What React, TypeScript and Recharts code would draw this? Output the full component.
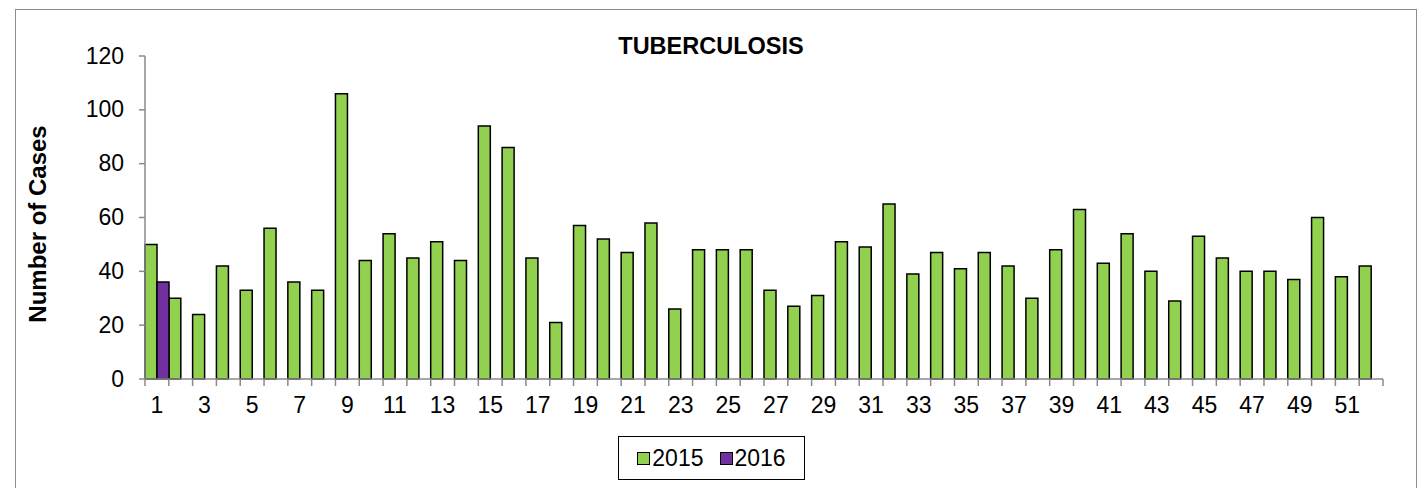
import React from "react";
import { BarChart, Bar, XAxis, YAxis, Legend } from "recharts";

const weeks: number[] = Array.from({ length: 52 }, (_, i) => i + 1);
const cases2015: number[] = [
  50, 30, 24, 42, 33, 56, 36, 33, 106, 44, 54, 45, 51, 44, 94, 86, 45, 21, 57, 52,
  47, 58, 26, 48, 48, 48, 33, 27, 31, 51, 49, 65, 39, 47, 41, 47, 42, 30, 48, 63,
  43, 54, 40, 29, 53, 45, 40, 40, 37, 60, 38, 42,
];
const cases2016: (number | null)[] = [36];
const yTicks: number[] = [0, 20, 40, 60, 80, 100, 120];
const seriesNames = ["2015", "2016"];
const seriesColors = ["#92D050", "#7030A0"];

const data = weeks.map((w, i) => ({
  week: w,
  y2015: cases2015[i] ?? null,
  y2016: cases2016[i] ?? null,
}));

const W = 1422;
const H = 488;
const PLOT_LEFT = 145;
const PLOT_RIGHT = 1383;
const PLOT_TOP = 56;
const PLOT_BOTTOM = 379;
const BW = (PLOT_RIGHT - PLOT_LEFT) / weeks.length;
const FONT = "'Liberation Sans', Arial, sans-serif";
const AXIS_GRAY = "#8a8a8a";

const XTick = (props: any) => {
  const { x, payload, index } = props;
  const showLabel = index % 2 === 0;
  return (
    <g>
      <line x1={x - BW / 2} x2={x - BW / 2} y1={PLOT_BOTTOM} y2={PLOT_BOTTOM + 7} stroke={AXIS_GRAY} strokeWidth={1.5} />
      {index === weeks.length - 1 && (
        <line x1={x + BW / 2} x2={x + BW / 2} y1={PLOT_BOTTOM} y2={PLOT_BOTTOM + 7} stroke={AXIS_GRAY} strokeWidth={1.5} />
      )}
      {showLabel && (
        <text x={x} y={413} textAnchor="middle" fontFamily={FONT} fontSize={23} fill="#000">
          {payload.value}
        </text>
      )}
    </g>
  );
};

const YTick = (props: any) => {
  const { y, payload } = props;
  return (
    <text x={124} y={y + 7.5} textAnchor="end" fontFamily={FONT} fontSize={23} fill="#000">
      {payload.value}
    </text>
  );
};

const LegendContent = () => (
  <div
    style={{
      border: "1.5px solid #000",
      height: 44,
      width: 187,
      boxSizing: "border-box",
      display: "flex",
      alignItems: "center",
      justifyContent: "center",
      gap: 16,
      fontFamily: FONT,
      fontSize: 23,
      background: "#fff",
    }}
  >
    {seriesNames.map((n, i) => (
      <span key={n} style={{ display: "flex", alignItems: "center" }}>
        <span
          style={{
            display: "inline-block",
            width: 11,
            height: 11,
            background: seriesColors[i],
            border: "1px solid #000",
            marginRight: 2,
          }}
        />
        {n}
      </span>
    ))}
  </div>
);

export default function App() {
  return (
    <div style={{ position: "absolute", left: 0, top: 0, width: W, height: H, background: "#fff", overflow: "hidden" }}>
      <div
        style={{
          position: "absolute",
          left: 15,
          top: 9,
          width: 1402,
          height: 500,
          border: "1.5px solid #8c8c8c",
          boxSizing: "border-box",
        }}
      />
      <div style={{ position: "absolute", left: 0, top: 0 }}>
        <BarChart
          width={W}
          height={H}
          data={data}
          barCategoryGap={0}
          barGap={0}
          margin={{ top: PLOT_TOP, right: W - PLOT_RIGHT, bottom: H - PLOT_BOTTOM - 40 - 44, left: 0 }}
        >
          <text x={711} y={54} textAnchor="middle" fontFamily={FONT} fontWeight="bold" fontSize={23.5} fill="#000">
            TUBERCULOSIS
          </text>
          <text
            x={0}
            y={0}
            transform={`translate(46, 224) rotate(-90)`}
            textAnchor="middle"
            fontFamily={FONT}
            fontWeight="bold"
            fontSize={24}
            fill="#000"
          >
            Number of Cases
          </text>
          <XAxis
            dataKey="week"
            interval={0}
            height={40}
            tickLine={false}
            tick={<XTick />}
            axisLine={{ stroke: AXIS_GRAY, strokeWidth: 1.5 }}
          />
          <YAxis
            width={PLOT_LEFT}
            domain={[0, 120]}
            ticks={yTicks}
            interval={0}
            tick={<YTick />}
            tickSize={6}
            tickLine={{ stroke: AXIS_GRAY, strokeWidth: 1.5 }}
            axisLine={{ stroke: AXIS_GRAY, strokeWidth: 1.5 }}
          />
          <Legend
            content={<LegendContent />}
            wrapperStyle={{ position: "absolute", left: 618, top: 436, width: 187, height: 44 }}
          />
          <Bar dataKey="y2015" name={seriesNames[0]} fill={seriesColors[0]} stroke="#000" strokeWidth={1.5} isAnimationActive={false} />
          <Bar dataKey="y2016" name={seriesNames[1]} fill={seriesColors[1]} stroke="#000" strokeWidth={1.5} isAnimationActive={false} />
        </BarChart>
      </div>
    </div>
  );
}
